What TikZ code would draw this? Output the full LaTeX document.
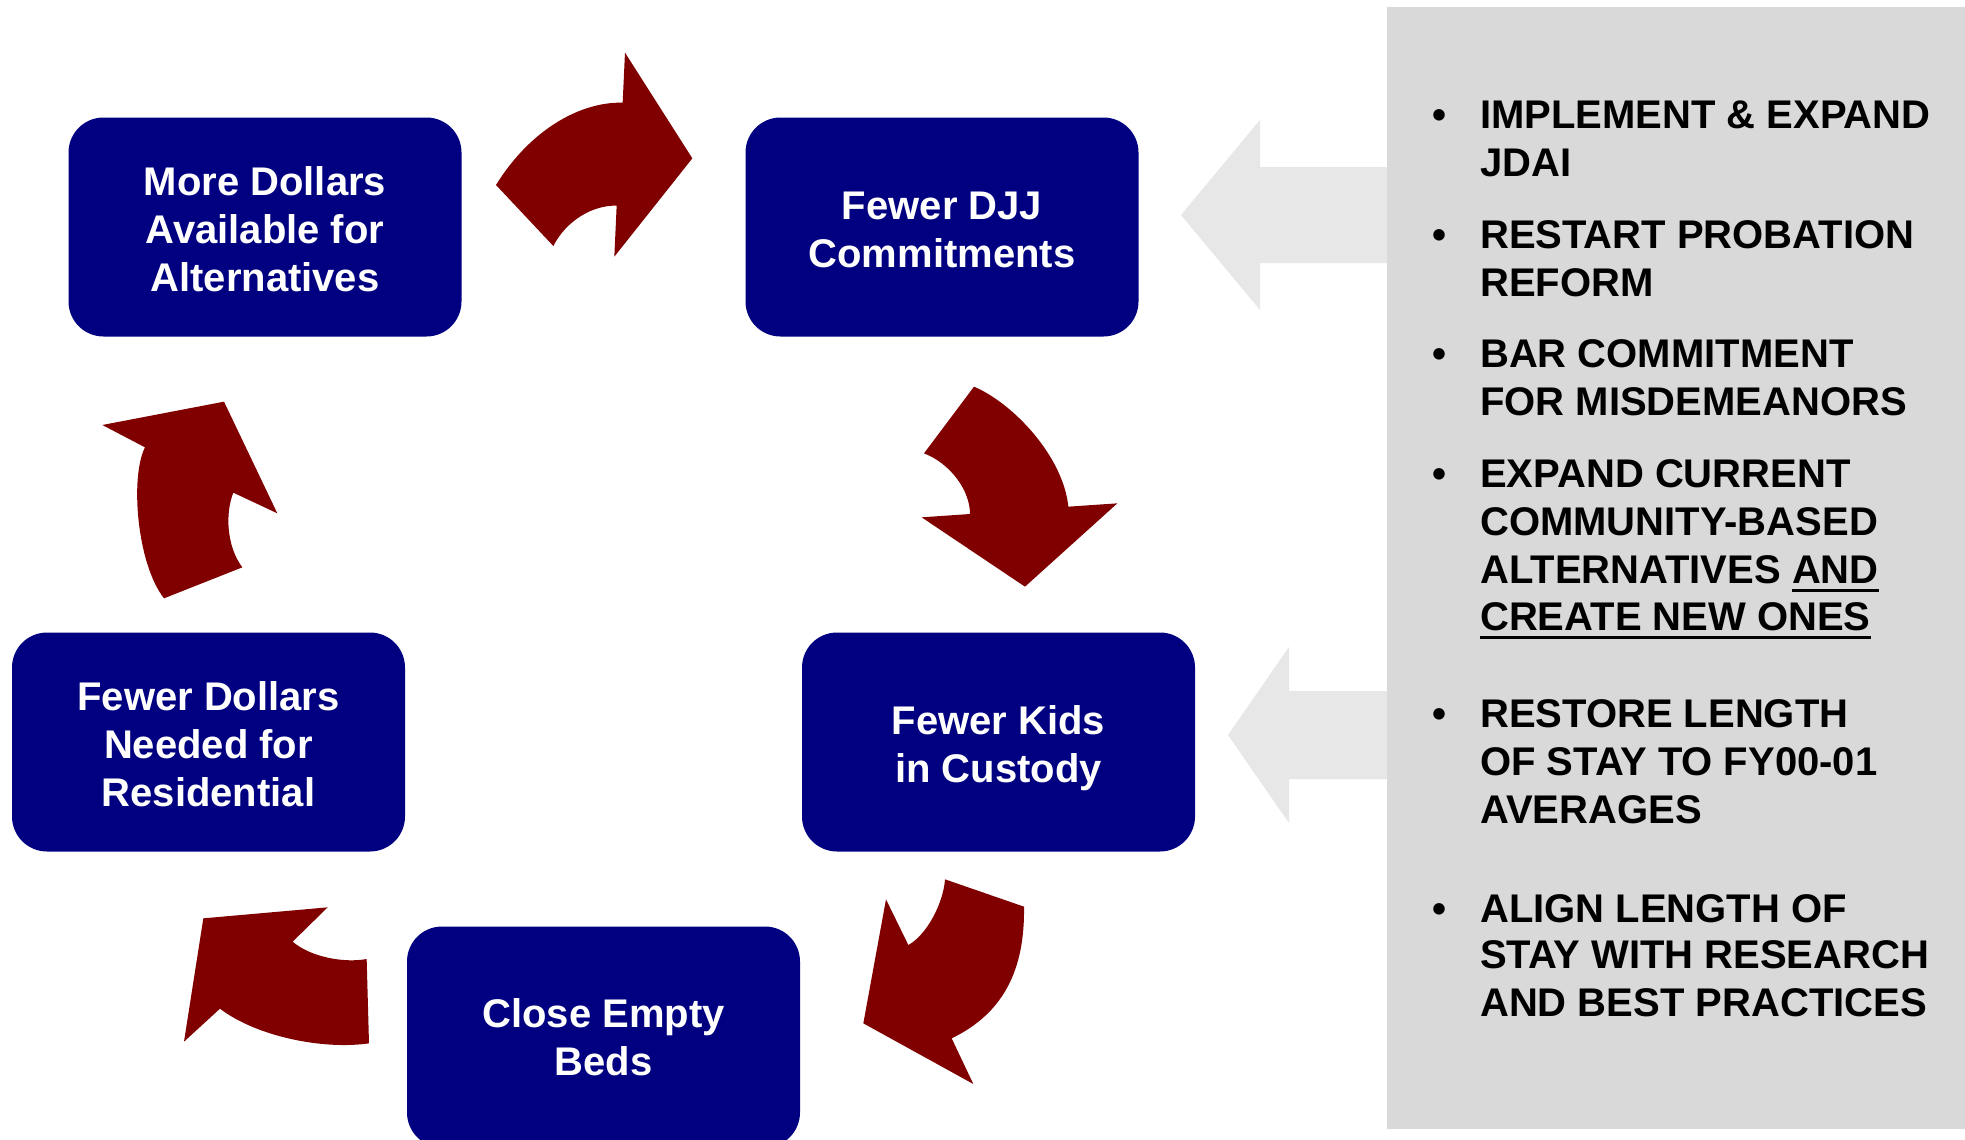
\documentclass[tikz,border=0pt]{standalone}
\usepackage{fontspec}
\setmainfont{Liberation Sans}
\definecolor{navyc}{HTML}{000080}
\definecolor{maroonc}{HTML}{800000}
\definecolor{panelgray}{HTML}{D9D9D9}
\definecolor{arrowgray}{HTML}{E7E7E7}
\newcommand\myul[1]{\sbox0{#1}\rlap{\rule[-9.2pt]{\wd0}{3.3pt}}\usebox0}
\begin{document}
\begin{tikzpicture}[x=1pt,y=-1pt,
  cbox/.style={draw=none, fill=navyc, rounded corners=35pt, minimum width=393pt,
    minimum height=219pt, inner sep=0pt},
  btext/.style={inner sep=0pt, align=center, text=white,
    font=\fontsize{40}{48}\selectfont\bfseries},
  ptext/.style={anchor=base west, inner sep=0pt, text=black,
    font=\fontsize{40}{48}\selectfont\bfseries},
  bul/.style={anchor=base, inner sep=0pt, text=black,
    font=\fontsize{40}{48}\selectfont\bfseries},
  redarrow/.style={fill=maroonc},
  grayarrow/.style={fill=arrowgray}]
\clip (0,0) rectangle (1965,1140);
\fill[white] (0,0) rectangle (1965,1140);

% gray block arrows
\fill[grayarrow] (1181,215) -- (1260,120) -- (1260,167) -- (1390,167) -- (1390,263) -- (1260,263) -- (1260,310) -- cycle;
\fill[grayarrow] (1228,735) -- (1289,647) -- (1289,691) -- (1390,691) -- (1390,779) -- (1289,779) -- (1289,823) -- cycle;

% panel
\fill[panelgray] (1387,7) rectangle (1965,1129);

% boxes
\node[cbox] (b1) at (265,227) {};
\node[cbox] (b2) at (942,227) {};
\node[cbox] (b3) at (998.5,742) {};
\node[cbox, minimum height=221pt] (b4) at (603.5,1037) {};
\node[cbox] (b5) at (208.5,742) {};
\node[btext] (b1t) at ([yshift=-2.5pt]b1.center) {More Dollars\\Available for\\Alternatives};
\node[btext] (b2t) at ([yshift=-2.5pt]b2.center) {Fewer DJJ\\Commitments};
\node[btext] (b3t) at ([yshift=-6pt]b3.center) {Fewer Kids\\in Custody};
\node[btext] (b4t) at (b4.center) {Close Empty\\Beds};
\node[btext] (b5t) at ([yshift=-2.5pt]b5.center) {Fewer Dollars\\Needed for\\Residential};

% curved red arrows
\begin{scope}[shift={(480,40)},scale=1/3]
\fill[redarrow] (48,435) .. controls (150,270) and (300,185) .. (428,188) -- (435,38) -- (637,355) -- (403,650) -- (410,497) .. controls (340,495) and (260,540) .. (220,618) -- cycle;
\end{scope}
\begin{scope}[shift={(900,370)},scale=1/3]
\fill[redarrow] (222,50) .. controls (340,100) and (490,260) .. (505,410) -- (652,400) -- (375,650) -- (65,442) -- (210,432) .. controls (210,360) and (150,280) .. (72,250) -- cycle;
\end{scope}
\begin{scope}[shift={(850,860)},scale=1/3]
\fill[redarrow] (285,58) -- (522,140) .. controls (525,330) and (460,460) .. (305,535) -- (370,672) -- (40,490) -- (108,118) -- (175,255) .. controls (230,225) and (280,130) .. (285,58) -- cycle;
\end{scope}
\begin{scope}[shift={(170,890)},scale=1/3]
\fill[redarrow] (590,207) -- (597,460) .. controls (460,480) and (260,440) .. (150,356) -- (42,455) -- (100,85) -- (473,52) -- (368,155) .. controls (420,200) and (520,220) .. (590,207) -- cycle;
\end{scope}
\begin{scope}[shift={(90,390)},scale=1/3]
\fill[redarrow] (222,625) -- (457,532) .. controls (410,470) and (405,370) .. (430,308) -- (562,370) -- (402,35) -- (37,105) -- (165,172) .. controls (120,260) and (140,520) .. (222,625) -- cycle;
\end{scope}

% panel text
\node[bul] (u1) at (1439,128) {•};
\node[ptext] (t1a) at (1480,128) {IMPLEMENT \& EXPAND};
\node[ptext] (t1b) at (1480,176) {JDAI};
\node[bul] (u2) at (1439,248) {•};
\node[ptext] (t2a) at (1480,248) {RESTART PROBATION};
\node[ptext] (t2b) at (1480,296) {REFORM};
\node[bul] (u3) at (1439,367) {•};
\node[ptext] (t3a) at (1480,367) {BAR COMMITMENT};
\node[ptext] (t3b) at (1480,415) {FOR MISDEMEANORS};
\node[bul] (u4) at (1439,487) {•};
\node[ptext] (t4a) at (1480,487) {EXPAND CURRENT};
\node[ptext] (t4b) at (1480,535) {COMMUNITY-BASED};
\node[ptext] (t4c) at (1480,583) {ALTERNATIVES \myul{AND}};
\node[ptext] (t4d) at (1480,630) {\myul{CREATE NEW ONES}};
\node[bul] (u5) at (1439,727) {•};
\node[ptext] (t5a) at (1480,727) {RESTORE LENGTH};
\node[ptext] (t5b) at (1480,775) {OF STAY TO FY00-01};
\node[ptext] (t5c) at (1480,823) {AVERAGES};
\node[bul] (u6) at (1439,922) {•};
\node[ptext] (t6a) at (1480,922) {ALIGN LENGTH OF};
\node[ptext] (t6b) at (1480,968) {STAY WITH RESEARCH};
\node[ptext] (t6c) at (1480,1016) {AND BEST PRACTICES};
\end{tikzpicture}
\end{document}
